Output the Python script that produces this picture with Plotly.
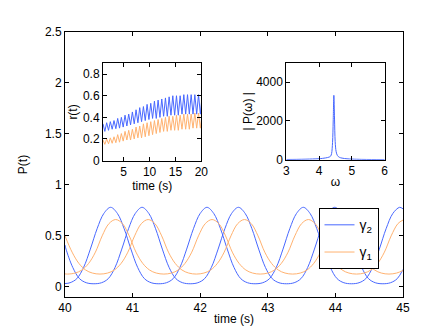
import plotly.graph_objects as go

# ---------------- main panel data: P(t) ----------------
blueA_t = [40.0, 40.075, 40.175, 40.275, 40.375, 40.475, 40.575, 40.675, 40.775, 40.875, 40.975, 41.075, 41.175, 41.275, 41.3875,
           41.5, 41.6, 41.7, 41.8, 41.9, 42.0, 42.1, 42.2, 42.3, 42.4, 42.5, 42.6, 42.7, 42.8125,
           42.925, 43.025, 43.125, 43.225, 43.325, 43.425, 43.525, 43.625, 43.725, 43.825, 43.925, 44.025, 44.125, 44.2375,
           44.35, 44.45, 44.55, 44.65, 44.75, 44.85, 44.95, 45.0]
blueA_p = [0.032, 0.04, 0.08, 0.19, 0.37, 0.57, 0.72, 0.78, 0.72, 0.57, 0.37, 0.19, 0.08, 0.04, 0.03,
           0.04, 0.08, 0.19, 0.37, 0.57, 0.72, 0.78, 0.72, 0.57, 0.37, 0.19, 0.08, 0.04, 0.03,
           0.04, 0.08, 0.19, 0.37, 0.57, 0.72, 0.78, 0.72, 0.57, 0.37, 0.19, 0.08, 0.04, 0.03,
           0.04, 0.08, 0.19, 0.37, 0.57, 0.72, 0.78, 0.765]

blueB_t = [40.0, 40.015, 40.115, 40.215, 40.315, 40.4275, 40.54, 40.64, 40.74, 40.84, 40.94, 41.04, 41.14, 41.24, 41.34,
           41.44, 41.54, 41.64, 41.74, 41.8525, 41.965, 42.065, 42.165, 42.265, 42.365, 42.465, 42.565, 42.665, 42.765,
           42.865, 42.965, 43.065, 43.165, 43.2775, 43.39, 43.49, 43.59, 43.69, 43.79, 43.89, 43.99, 44.09, 44.19,
           44.29, 44.39, 44.49, 44.59, 44.7025, 44.815, 44.915, 45.0]
blueB_p = [0.41, 0.37, 0.19, 0.08, 0.04, 0.03, 0.04, 0.08, 0.19, 0.37, 0.57, 0.72, 0.78, 0.72, 0.57,
           0.37, 0.19, 0.08, 0.04, 0.03, 0.04, 0.08, 0.19, 0.37, 0.57, 0.72, 0.78, 0.72, 0.57,
           0.37, 0.19, 0.08, 0.04, 0.03, 0.04, 0.08, 0.19, 0.37, 0.57, 0.72, 0.78, 0.72, 0.57,
           0.37, 0.19, 0.08, 0.04, 0.03, 0.04, 0.08, 0.17]

orangeA_t = [40.0, 40.0375, 40.15, 40.25, 40.35, 40.45, 40.55, 40.65, 40.75, 40.85, 40.95, 41.05, 41.15, 41.25, 41.35, 41.4625,
             41.575, 41.675, 41.775, 41.875, 41.975, 42.075, 42.175, 42.275, 42.375, 42.475, 42.575, 42.675, 42.775, 42.8875,
             43.0, 43.1, 43.2, 43.3, 43.4, 43.5, 43.6, 43.7, 43.8, 43.9, 44.0, 44.1, 44.2, 44.3125,
             44.425, 44.525, 44.625, 44.725, 44.825, 44.925, 45.0]
orangeA_p = [0.127, 0.125, 0.135, 0.165, 0.23, 0.34, 0.50, 0.62, 0.66, 0.62, 0.50, 0.34, 0.23, 0.165, 0.135, 0.125,
             0.135, 0.165, 0.23, 0.34, 0.50, 0.62, 0.66, 0.62, 0.50, 0.34, 0.23, 0.165, 0.135, 0.125,
             0.135, 0.165, 0.23, 0.34, 0.50, 0.62, 0.66, 0.62, 0.50, 0.34, 0.23, 0.165, 0.135, 0.125,
             0.135, 0.165, 0.23, 0.34, 0.50, 0.62, 0.655]

orangeB_t = [40.0, 40.105, 40.205, 40.305, 40.405, 40.5175, 40.63, 40.73, 40.83, 40.93, 41.03, 41.13, 41.23, 41.33, 41.43,
             41.53, 41.63, 41.73, 41.83, 41.9425, 42.055, 42.155, 42.255, 42.355, 42.455, 42.555, 42.655, 42.755, 42.855,
             42.955, 43.055, 43.155, 43.255, 43.3675, 43.48, 43.58, 43.68, 43.78, 43.88, 43.98, 44.08, 44.18, 44.28,
             44.38, 44.48, 44.58, 44.68, 44.7925, 44.905, 45.0]
orangeB_p = [0.50, 0.34, 0.23, 0.165, 0.135, 0.125, 0.135, 0.165, 0.23, 0.34, 0.50, 0.62, 0.66, 0.62, 0.50,
             0.34, 0.23, 0.165, 0.135, 0.125, 0.135, 0.165, 0.23, 0.34, 0.50, 0.62, 0.66, 0.62, 0.50,
             0.34, 0.23, 0.165, 0.135, 0.125, 0.135, 0.165, 0.23, 0.34, 0.50, 0.62, 0.66, 0.62, 0.50,
             0.34, 0.23, 0.165, 0.135, 0.125, 0.135, 0.16]

# ---------------- inset 1: r(t) ----------------
r_time = [1.00, 1.355, 1.71, 2.065, 2.42, 2.775, 3.13, 3.485, 3.84, 4.195, 4.55, 4.905, 5.26, 5.615, 5.97, 6.325,
          6.68, 7.035, 7.39, 7.745, 8.10, 8.455, 8.81, 9.165, 9.52, 9.875, 10.23, 10.585, 10.94, 11.295, 11.65,
          12.005, 12.36, 12.715, 13.07, 13.425, 13.78, 14.135, 14.49, 14.845, 15.20, 15.555, 15.91, 16.265, 16.62,
          16.975, 17.33, 17.685, 18.04, 18.395, 18.75, 19.105, 19.46, 19.815, 20.17]
r_blue = [0.34, 0.27, 0.35, 0.28, 0.36, 0.29, 0.37, 0.295, 0.39, 0.30, 0.40, 0.31, 0.42, 0.32, 0.43, 0.33,
          0.45, 0.34, 0.47, 0.35, 0.49, 0.36, 0.50, 0.37, 0.52, 0.38, 0.53, 0.39, 0.55, 0.39, 0.56,
          0.40, 0.57, 0.41, 0.58, 0.41, 0.59, 0.42, 0.60, 0.42, 0.60, 0.42, 0.60, 0.43, 0.61,
          0.43, 0.61, 0.43, 0.61, 0.43, 0.61, 0.43, 0.61, 0.43, 0.61]
r_orange = [0.19, 0.15, 0.20, 0.155, 0.21, 0.16, 0.22, 0.165, 0.24, 0.17, 0.25, 0.18, 0.27, 0.19, 0.28, 0.19,
            0.29, 0.20, 0.31, 0.21, 0.32, 0.21, 0.34, 0.22, 0.35, 0.23, 0.36, 0.24, 0.37, 0.25, 0.38,
            0.26, 0.39, 0.27, 0.40, 0.27, 0.41, 0.28, 0.41, 0.28, 0.42, 0.28, 0.42, 0.29, 0.43,
            0.29, 0.43, 0.29, 0.43, 0.30, 0.44, 0.30, 0.44, 0.30, 0.44]

# ---------------- inset 2: |P(omega)| ----------------
omega = [3.0, 3.3, 3.6, 3.8, 4.0, 4.1, 4.2, 4.3, 4.35, 4.38, 4.41, 4.43, 4.45, 4.47, 4.49, 4.52, 4.56, 4.62, 4.7,
         4.85, 5.0, 5.3, 5.6, 6.0]
spec = [20, 25, 35, 45, 60, 75, 100, 140, 190, 320, 900, 2000, 3320, 2100, 950, 420, 220, 130, 90,
        55, 40, 25, 18, 12]

BLUE = "rgb(72,104,255)"
ORANGE = "rgb(255,178,112)"
FONT = "Liberation Sans, Arial, sans-serif"

fig = go.Figure()
fig.add_trace(go.Scatter(x=blueA_t, y=blueA_p, mode="lines", line=dict(color=BLUE, width=1, shape="spline"),
                         name="γ<sub>2</sub>", legendgroup="g2", showlegend=True))
fig.add_trace(go.Scatter(x=blueB_t, y=blueB_p, mode="lines", line=dict(color=BLUE, width=1, shape="spline"),
                         legendgroup="g2", showlegend=False))
fig.add_trace(go.Scatter(x=orangeA_t, y=orangeA_p, mode="lines", line=dict(color=ORANGE, width=1, shape="spline"),
                         name="γ<sub>1</sub>", legendgroup="g1", showlegend=True))
fig.add_trace(go.Scatter(x=orangeB_t, y=orangeB_p, mode="lines", line=dict(color=ORANGE, width=1, shape="spline"),
                         legendgroup="g1", showlegend=False))

fig.add_trace(go.Scatter(x=r_time, y=r_blue, mode="lines", line=dict(color=BLUE, width=1),
                         xaxis="x2", yaxis="y2", showlegend=False))
fig.add_trace(go.Scatter(x=r_time, y=r_orange, mode="lines", line=dict(color=ORANGE, width=1),
                         xaxis="x2", yaxis="y2", showlegend=False))
fig.add_trace(go.Scatter(x=omega, y=spec, mode="lines", line=dict(color=BLUE, width=1, shape="spline"),
                         xaxis="x3", yaxis="y3", showlegend=False))

ax_common = dict(showline=True, linecolor="black", linewidth=1, mirror="allticks", ticks="inside",
                 ticklen=4, tickcolor="black", showgrid=False, zeroline=False,
                 tickfont=dict(family=FONT, size=12, color="black"))

fig.update_layout(
    width=436, height=328,
    margin=dict(l=57, r=41, t=24, b=36),
    paper_bgcolor="white", plot_bgcolor="white",
    font=dict(family=FONT, size=12, color="black"),
    xaxis=dict(range=[40, 45], tickvals=[40, 41, 42, 43, 44, 45], domain=[0, 1],
               title=dict(text="time (s)", standoff=0, font=dict(size=12)), **ax_common),
    yaxis=dict(range=[-0.1, 2.5], tickvals=[0, 0.5, 1, 1.5, 2, 2.5], ticktext=["0", "0.5", "1", "1.5", "2", "2.5"],
               domain=[0, 1], title=dict(text="P(t)", standoff=14, font=dict(size=12)), **ax_common),
    xaxis2=dict(range=[1, 20], tickvals=[5, 10, 15, 20], domain=[0.1124, 0.4033], anchor="y2",
                title=dict(text="time (s)", standoff=0, font=dict(size=12)), **ax_common),
    yaxis2=dict(range=[0, 0.9], tickvals=[0, 0.2, 0.4, 0.6, 0.8], ticktext=["0", "0.2", "0.4", "0.6", "0.8"],
                domain=[0.5149, 0.8817], anchor="x2",
                title=dict(text="r(t)", standoff=2, font=dict(size=12)), **ax_common),
    xaxis3=dict(range=[3, 6], tickvals=[3, 4, 5, 6], domain=[0.6547, 0.9459], anchor="y3",
                title=dict(text="ω", standoff=0, font=dict(size=12)), **ax_common),
    yaxis3=dict(range=[0, 5000], tickvals=[0, 2000, 4000], domain=[0.5175, 0.8843], anchor="x3",
                title=dict(text="| P(ω) |", standoff=0, font=dict(size=12)), **ax_common),
    legend=dict(x=0.75, y=0.335, xanchor="left", yanchor="top", bgcolor="white",
                bordercolor="black", borderwidth=1, tracegroupgap=6,
                font=dict(family=FONT, size=14, color="black"), itemwidth=30),
    showlegend=True,
)

fig.write_html("out.html")
